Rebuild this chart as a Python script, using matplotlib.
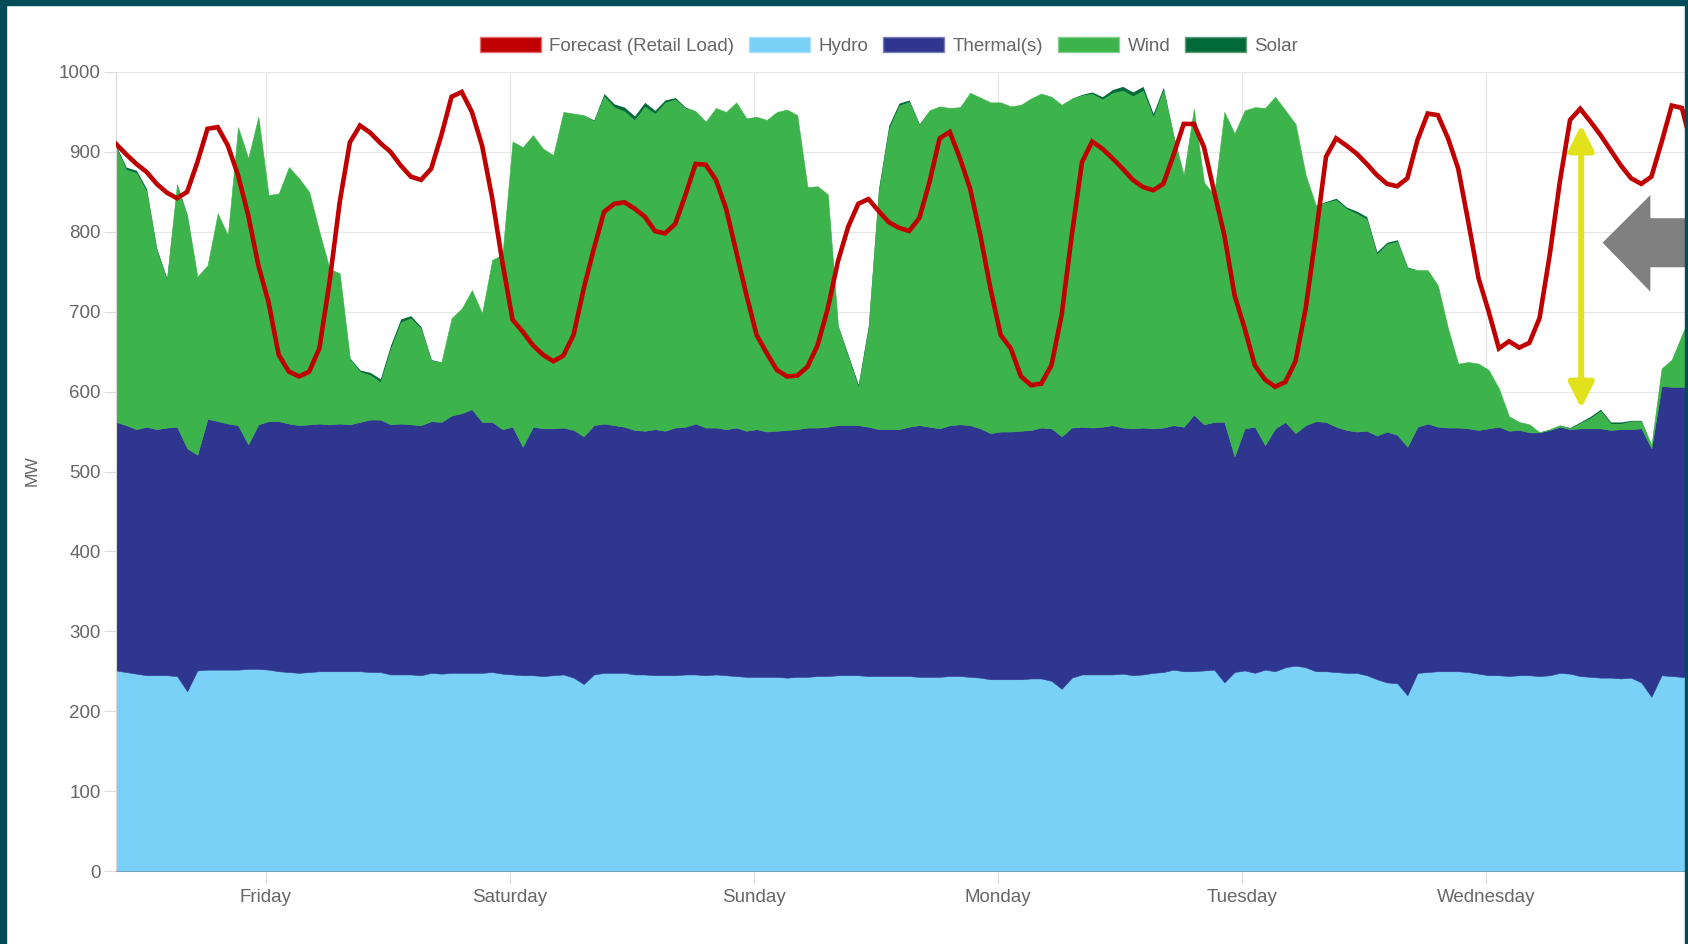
import numpy as np
import matplotlib
matplotlib.use("Agg")
import matplotlib.pyplot as plt
from matplotlib.patches import Patch, Polygon, Rectangle, FancyArrowPatch

plt.rcParams['font.family'] = ['Liberation Sans', 'DejaVu Sans']

# hourly readings, hour 0 = left edge of the chart
days = ['Friday', 'Saturday', 'Sunday', 'Monday', 'Tuesday', 'Wednesday']
day_start = 14.75   # hour index of Friday 00:00

forecast = [
    910, 897, 885, 875, 860, 849, 842, 850, 887, 929,
    931, 908, 871, 821, 758, 712, 646, 625, 619, 625,
    654, 737, 837, 912, 933, 924, 911, 900, 883, 869,
    865, 879, 921, 969, 975, 950, 908, 842, 762, 690,
    675, 658, 646, 638, 645, 671, 729, 779, 825, 835,
    837, 829, 819, 801, 798, 810, 846, 885, 884, 865,
    829, 775, 721, 671, 648, 627, 619, 620, 631, 658,
    704, 763, 806, 835, 841, 826, 812, 805, 801, 817,
    862, 917, 925, 892, 854, 796, 729, 671, 654, 619,
    608, 610, 633, 696, 796, 887, 913, 904, 892, 879,
    865, 856, 852, 860, 896, 935, 935, 906, 850, 796,
    721, 679, 633, 615, 606, 612, 638, 704, 796, 894,
    917, 908, 898, 885, 871, 860, 857, 867, 915, 948,
    946, 917, 879, 812, 742, 700, 654, 663, 655, 661,
    692, 771, 863, 940, 954, 938, 921, 902, 883, 867,
    860, 869, 912, 958, 955, 905]

hydro = [
    251, 249, 247, 245, 245, 245, 244, 225, 251, 252,
    252, 252, 252, 253, 253, 252, 250, 249, 248, 249,
    250, 250, 250, 250, 250, 249, 249, 246, 246, 246,
    245, 248, 247, 248, 248, 248, 248, 249, 247, 246,
    245, 245, 244, 245, 246, 242, 234, 246, 248, 248,
    248, 246, 246, 245, 245, 245, 246, 246, 245, 246,
    245, 244, 243, 243, 243, 243, 242, 243, 243, 244,
    244, 245, 245, 245, 244, 244, 244, 244, 244, 243,
    243, 243, 244, 244, 243, 242, 240, 240, 240, 240,
    241, 241, 238, 228, 242, 246, 246, 246, 246, 247,
    245, 246, 248, 249, 252, 250, 250, 251, 252, 236,
    249, 251, 248, 252, 250, 255, 257, 255, 250, 250,
    249, 248, 248, 245, 240, 236, 235, 220, 248, 249,
    250, 250, 250, 249, 247, 245, 245, 244, 245, 245,
    244, 245, 248, 247, 244, 243, 242, 242, 241, 242,
    236, 218, 245, 244, 243, 243]

# top edge of the thermal layer (hydro + thermal)
thermal_top = [
    562, 558, 553, 556, 553, 555, 556, 529, 521, 566,
    563, 560, 558, 534, 559, 563, 563, 560, 558, 559,
    560, 559, 560, 559, 562, 565, 565, 559, 560, 559,
    558, 563, 562, 570, 573, 578, 562, 562, 553, 556,
    531, 556, 554, 554, 555, 552, 544, 558, 560, 558,
    556, 552, 551, 553, 551, 555, 556, 560, 555, 555,
    553, 555, 551, 553, 550, 551, 552, 553, 555, 555,
    556, 558, 558, 558, 556, 553, 553, 553, 556, 558,
    556, 554, 558, 559, 558, 554, 548, 550, 550, 551,
    552, 555, 554, 544, 555, 556, 555, 556, 558, 555,
    554, 555, 554, 555, 558, 556, 571, 559, 562, 562,
    519, 554, 556, 533, 554, 562, 548, 558, 563, 562,
    556, 552, 550, 551, 545, 550, 546, 531, 556, 560,
    556, 555, 555, 554, 552, 554, 556, 551, 552, 549,
    549, 552, 556, 553, 554, 554, 554, 552, 553, 553,
    554, 529, 607, 606, 606, 605]

# top edge of the whole stack (hydro + thermal + wind + solar)
total_top = [
    908, 881, 877, 854, 779, 742, 860, 821, 744, 758,
    823, 796, 931, 892, 944, 846, 848, 881, 867, 850,
    800, 754, 748, 642, 627, 624, 616, 658, 691, 695,
    681, 640, 637, 692, 704, 727, 698, 765, 771, 913,
    906, 921, 904, 896, 950, 948, 946, 940, 973, 960,
    956, 945, 962, 952, 965, 968, 956, 951, 938, 955,
    950, 962, 942, 944, 940, 950, 953, 946, 856, 857,
    847, 683, 646, 609, 683, 854, 933, 961, 965, 935,
    952, 957, 955, 956, 974, 968, 962, 962, 957, 959,
    967, 973, 969, 959, 967, 972, 975, 969, 978, 982,
    975, 982, 948, 981, 921, 871, 954, 862, 846, 950,
    923, 952, 956, 955, 969, 952, 935, 871, 833, 838,
    842, 831, 826, 819, 775, 787, 790, 756, 752, 752,
    733, 679, 635, 637, 635, 627, 604, 569, 562, 559,
    549, 553, 558, 555, 562, 569, 578, 562, 562, 564,
    564, 533, 629, 640, 671, 700]

solar = [
    2, 3, 3, 3, 2, 2, 1, 1, 0, 0,
    0, 0, 0, 0, 0, 0, 0, 0, 0, 0,
    0, 0, 0, 1, 2, 3, 4, 4, 4, 3,
    2, 1, 0, 0, 0, 0, 0, 0, 0, 0,
    0, 0, 0, 0, 0, 0, 0, 1, 3, 4,
    5, 5, 5, 4, 3, 2, 1, 0, 0, 0,
    0, 0, 0, 0, 0, 0, 0, 0, 0, 0,
    0, 1, 2, 3, 4, 4, 4, 3, 2, 1,
    0, 0, 0, 0, 0, 0, 0, 0, 0, 0,
    0, 0, 0, 0, 0, 1, 2, 3, 4, 5,
    5, 5, 4, 3, 1, 0, 0, 0, 0, 0,
    0, 0, 0, 0, 0, 0, 0, 0, 0, 1,
    2, 2, 3, 3, 3, 2, 2, 1, 0, 0,
    0, 0, 0, 0, 0, 0, 0, 0, 0, 0,
    0, 0, 0, 1, 1, 2, 2, 2, 2, 1,
    1, 0, 0, 0, 0, 0]

hours = np.arange(len(forecast))
hydro = np.array(hydro, dtype=float)
thermal = np.array(thermal_top) - hydro
solar = np.array(solar, dtype=float)
wind = np.clip(np.array(total_top) - np.array(thermal_top) - solar, 0, None)

c_red = '#c00000'
c_hydro = '#79d1f7'
c_thermal = '#2e3690'
c_wind = '#3cb44b'
c_solar = '#006b38'
grey_txt = '#666666'

W, H = 1688, 944
fig = plt.figure(figsize=(W / 100, H / 100), dpi=100)
ax = fig.add_axes([116 / W, 73 / H, (W - 116) / W, 799 / H])

polys = ax.stackplot(hours, hydro, thermal, wind, solar,
                     colors=[c_hydro, c_thermal, c_wind, c_solar],
                     edgecolor='face', linewidth=0.4, zorder=2)
polys[-1].set_linewidth(0)   # no rim where solar is zero
ax.plot(hours, forecast, color=c_red, lw=3.3, zorder=3, solid_joinstyle='miter')

ax.set_xlim(0, 154.6)
ax.set_ylim(0, 1000)
ax.set_yticks(np.arange(0, 1001, 100))
ax.set_xticks(day_start + 24 * np.arange(len(days)))
ax.set_xticklabels(days)
ax.set_axisbelow(True)
ax.grid(True, color='#e6e6e6', lw=0.8)
ax.tick_params(axis='both', colors='#dddddd', labelcolor=grey_txt, labelsize=13.5,
               length=9, width=0.8)
ax.tick_params(axis='y', pad=2)
ax.tick_params(axis='x', pad=4)
for s in ['top', 'right']:
    ax.spines[s].set_visible(False)
ax.spines['left'].set_color('#d9d9d9')
ax.spines['bottom'].set_color((0, 0, 0, 0.25))
ax.spines['bottom'].set_zorder(4)
fig.text(32 / W, 1 - 471 / H, 'MW', rotation=90, ha='center', va='center',
         color=grey_txt, fontsize=12.5)

# annotations
arr = FancyArrowPatch((144.1, 579), (144.1, 934), arrowstyle='<|-|>', mutation_scale=38,
                      color='#e1e21b', lw=4.3, shrinkA=0, shrinkB=0, zorder=6)
ax.add_patch(arr)
ax.add_patch(Polygon([(146.2, 786.4), (150.9, 846), (150.9, 817), (158, 817),
                      (158, 755.6), (150.9, 755.6), (150.9, 725)],
                     closed=True, facecolor='#808080', edgecolor='none', zorder=6))

handles = [Patch(facecolor=c_red, edgecolor='#e07070', label='Forecast (Retail Load)'),
           Patch(facecolor=c_hydro, edgecolor='#a8e0fa', label='Hydro'),
           Patch(facecolor=c_thermal, edgecolor='#7c80b8', label='Thermal(s)'),
           Patch(facecolor=c_wind, edgecolor='#80d08a', label='Wind'),
           Patch(facecolor=c_solar, edgecolor='#60a080', label='Solar')]
leg = fig.legend(handles=handles, loc='center', bbox_to_anchor=(889 / W, 1 - 46 / H),
                 ncol=5, frameon=False, fontsize=13.5, handlelength=3.25, handleheight=0.9,
                 handletextpad=0.45, columnspacing=0.8)
for t in leg.get_texts():
    t.set_color(grey_txt)

# dark frame around the slide
border = '#014c57'
fig.add_artist(Rectangle((0, 0), 6 / W, 1, transform=fig.transFigure, color=border, zorder=10))
fig.add_artist(Rectangle((0, 1 - 5 / H), 1, 5 / H, transform=fig.transFigure, color=border, zorder=10))
fig.add_artist(Rectangle((1 - 3 / W, 0), 3 / W, 1, transform=fig.transFigure, color=border, zorder=10))

fig.savefig('out.png', dpi=100)
